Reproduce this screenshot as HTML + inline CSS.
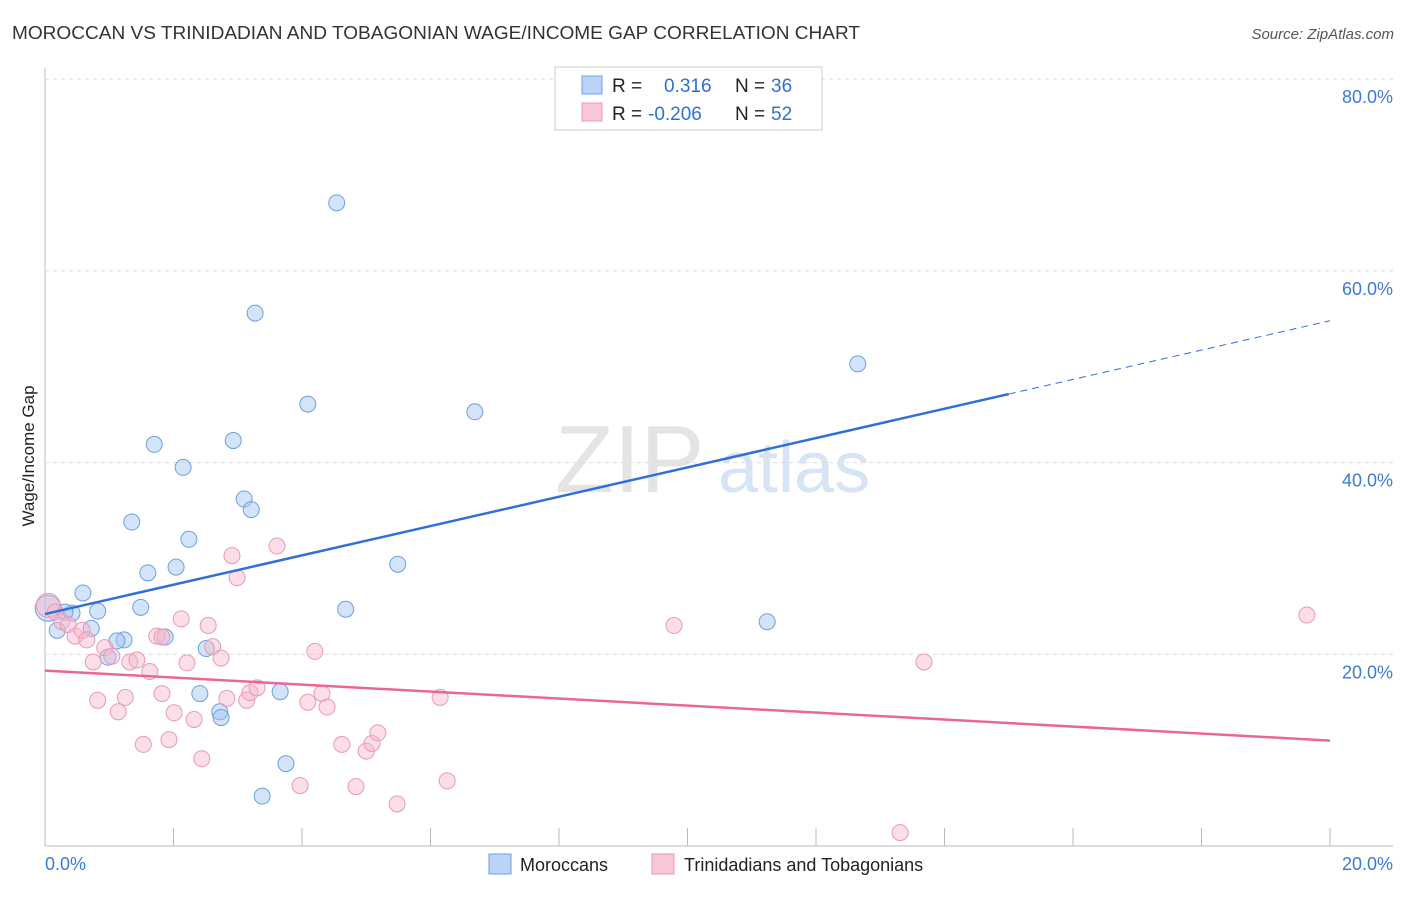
<!DOCTYPE html>
<html><head><meta charset="utf-8"><style>
body{margin:0;background:#fff;font-family:"Liberation Sans",sans-serif;}
svg text{font-family:"Liberation Sans",sans-serif;}
</style></head><body>
<svg id="c" width="1406" height="892" xmlns="http://www.w3.org/2000/svg">
<text x="12" y="39" font-size="18" fill="#333" textLength="848" lengthAdjust="spacingAndGlyphs">MOROCCAN VS TRINIDADIAN AND TOBAGONIAN WAGE/INCOME GAP CORRELATION CHART</text>
<text x="1394" y="39" font-size="15" fill="#555" text-anchor="end" font-style="italic">Source: ZipAtlas.com</text>
<text x="34" y="456" font-size="17" fill="#222" text-anchor="middle" transform="rotate(-90 34 456)">Wage/Income Gap</text>
<g><text x="555" y="492" font-size="96" fill="#e4e4e4" font-family="Liberation Serif">ZIP</text><text x="718" y="492" font-size="72" fill="#d6e4f5">atlas</text></g>
<g id="grid"></g><g id="pts"></g><g id="lines"></g>
<g>
<rect x="555" y="67" width="267" height="63" fill="#fff" stroke="#ccc"/>
<rect x="582" y="76" width="20" height="18" fill="#b8d3f5" stroke="#6e9fe0"/>
<rect x="582" y="103" width="20" height="18" fill="#f8c6d6" stroke="#e89ab3"/>
<text x="612" y="92" font-size="19" fill="#222">R =</text><text x="664" y="92" font-size="19" fill="#2f6fd6">0.316</text>
<text x="735" y="92" font-size="19" fill="#222">N =</text><text x="771" y="92" font-size="19" fill="#2f6fd6">36</text>
<text x="612" y="120" font-size="19" fill="#222">R =</text><text x="648" y="120" font-size="19" fill="#2f6fd6">-0.206</text>
<text x="735" y="120" font-size="19" fill="#222">N =</text><text x="771" y="120" font-size="19" fill="#2f6fd6">52</text>
</g>
<g>
<rect x="489" y="854" width="22" height="20" fill="#b8d3f5" stroke="#6e9fe0"/>
<text x="520" y="871" font-size="18" fill="#222">Moroccans</text>
<rect x="652" y="854" width="22" height="20" fill="#f8c6d6" stroke="#e89ab3"/>
<text x="684" y="871" font-size="18" fill="#222">Trinidadians and Tobagonians</text>
</g>
</svg>
<script>
const yTicks=[20,40,60,80];
const xTickLabels=["0.0%","20.0%"];
const blueX=[4.54,3.27,12.65,4.09,6.69,1.70,2.93,2.15,3.10,3.21,1.35,2.24,5.49,1.60,2.04,0.59,1.49,4.68,0.82,0.42,0.31,0.72,0.19,11.24,1.23,1.12,1.87,2.51,0.98,2.41,3.66,2.72,2.74,3.75,3.38,0.05];
const blueY=[67.1,55.6,50.3,46.1,45.3,41.9,42.3,39.5,36.2,35.1,33.8,32.0,29.4,28.5,29.1,26.4,24.9,24.7,24.5,24.3,24.4,22.7,22.5,23.4,21.5,21.4,21.8,20.6,19.7,15.9,16.1,14.0,13.4,8.6,5.2,24.8];
const pinkX=[0.05,0.16,0.26,0.36,0.47,0.58,0.65,0.75,0.93,1.04,1.32,1.43,1.63,1.74,1.82,2.12,2.54,2.61,2.74,2.21,2.91,2.99,3.61,4.20,0.82,1.14,1.25,1.82,2.01,2.32,2.83,3.14,3.19,3.30,4.09,4.31,4.39,6.15,1.53,1.93,2.44,3.97,4.62,4.84,5.00,5.09,5.18,5.48,6.26,9.79,13.68,19.64,13.31];
const pinkY=[25.1,24.4,23.4,23.1,21.9,22.5,21.5,19.2,20.7,19.8,19.2,19.4,18.2,21.9,21.8,23.7,23.0,20.8,19.6,19.1,30.3,28.0,31.3,20.3,15.2,14.0,15.5,15.9,13.9,13.2,15.4,15.2,16.0,16.5,15.0,15.9,14.5,15.5,10.6,11.1,9.1,6.3,10.6,6.2,9.9,10.7,11.8,4.4,6.8,23.0,19.2,24.1,1.4];
const blueTrend=[24.2,54.8];
const pinkTrend=[18.3,11.0];
const X=v=>45+v*64.25, Y=v=>846-v*9.585;
const NS="http://www.w3.org/2000/svg";
function mk(p,t,a){const e=document.createElementNS(NS,t);for(const k in a)e.setAttribute(k,a[k]);p.appendChild(e);return e;}
const g=document.getElementById('grid');
let ax=mk(g,'line',{x1:45,y1:68,x2:45,y2:846,stroke:'#bbb'});


let bx=mk(g,'line',{x1:45,y1:846,x2:1393,y2:846,stroke:'#bbb'});


yTicks.forEach(t=>{
 const l=mk(g,'line',{x1:45,x2:1393,y1:Y(t),y2:Y(t),stroke:'#ddd','stroke-dasharray':'4 4'});
 
 
 const tx=mk(g,'text',{x:1393,y:Y(t)+24,'font-size':18,fill:'#3a7bd5','text-anchor':'end'});tx.textContent=t.toFixed(1)+'%';
 
 
});
for(let i=1;i<=10;i++){const l=mk(g,'line',{x1:X(i*2),x2:X(i*2),y1:828,y2:846,stroke:'#bbb'});
 
 }
[[0,'start',45],[20,'end',1393]].forEach((d,i)=>{const t=mk(g,'text',{x:d[2],y:870,'font-size':18,fill:'#3a7bd5','text-anchor':d[1]});t.textContent=xTickLabels[i];
 
 });
const P=document.getElementById('pts');
blueX.forEach((x,i)=>{const c=mk(P,'circle',{cx:X(x),cy:Y(blueY[i]),r:i==35?13:8,fill:'rgba(160,196,240,0.45)',stroke:'#6e9fe0','stroke-width':1});
 
 });
pinkX.forEach((x,i)=>{const c=mk(P,'circle',{cx:X(x),cy:Y(pinkY[i]),r:i==0?12:8,fill:'rgba(246,182,204,0.45)',stroke:'#e89ab3','stroke-width':1});
 
 });
const L=document.getElementById('lines');
const bAt=x=>blueTrend[0]+(blueTrend[1]-blueTrend[0])*x/20;
let b1=mk(L,'line',{x1:X(0),y1:Y(bAt(0)),x2:X(15),y2:Y(bAt(15)),stroke:'#2f6fd6','stroke-width':2.5});


let b2=mk(L,'line',{x1:X(15),y1:Y(bAt(15)),x2:X(20),y2:Y(bAt(20)),stroke:'#2f6fd6','stroke-width':1,'stroke-dasharray':'7 5'});


let p1=mk(L,'line',{x1:X(0),y1:Y(pinkTrend[0]),x2:X(20),y2:Y(pinkTrend[1]),stroke:'#e8669a','stroke-width':2.5});


</script>
</body></html>
